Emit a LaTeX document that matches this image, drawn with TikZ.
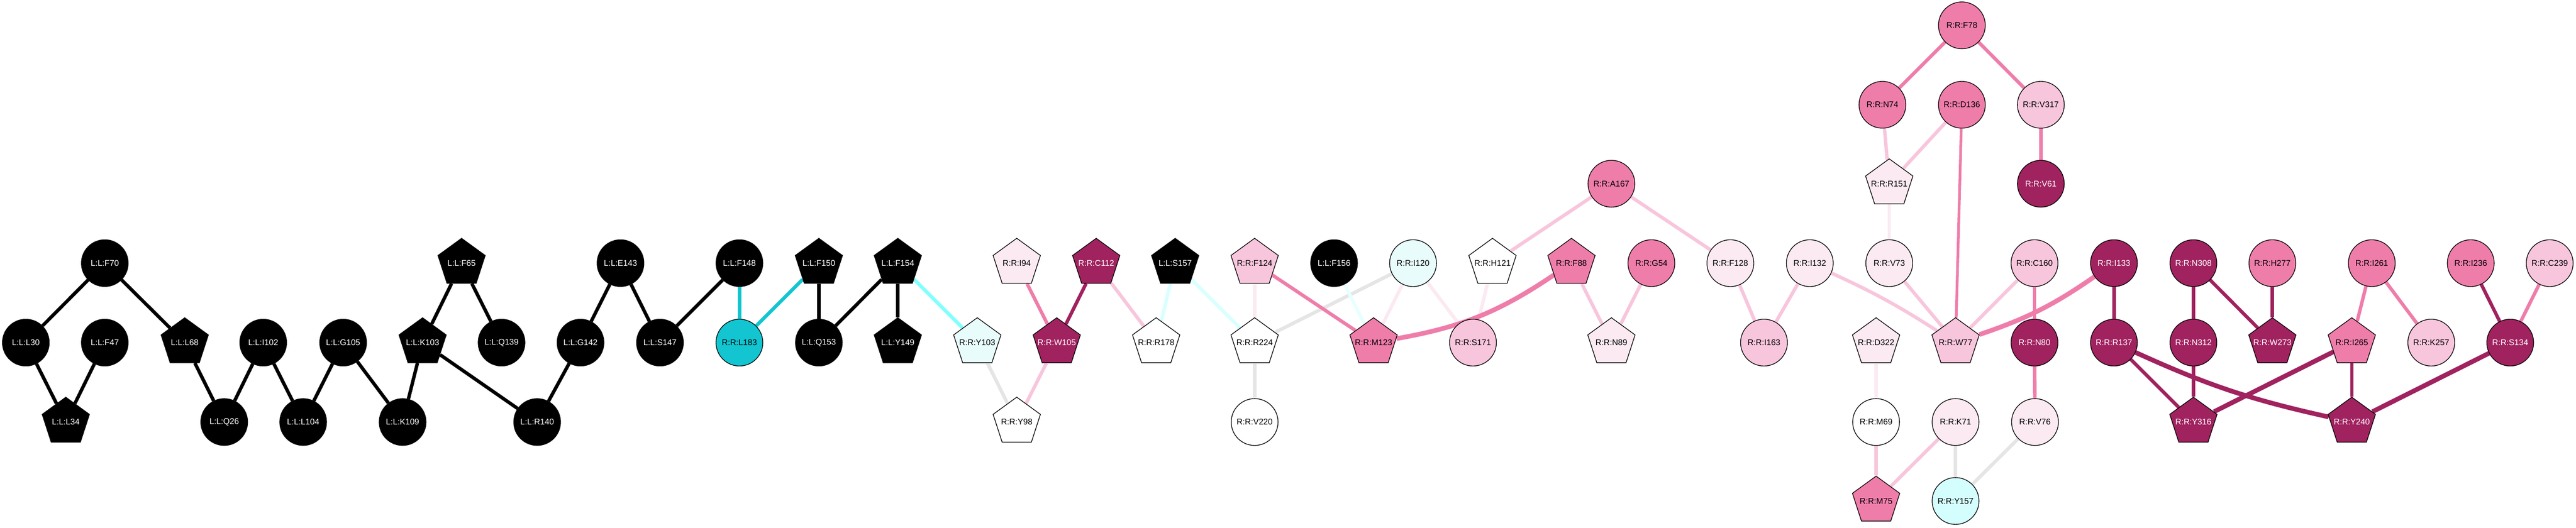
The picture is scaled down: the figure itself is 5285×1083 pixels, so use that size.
\documentclass[tikz,border=0pt]{standalone}
\usepackage{fontspec}
\newfontfamily\labfont{Liberation Sans}
\usetikzlibrary{shapes.geometric}
\pgfdeclarelayer{bg}
\pgfsetlayers{bg,main}
\newcommand\nodetxt[1]{\makebox[0pt][c]{#1}}
\definecolor{cdark}{RGB}{160,34,95}
\definecolor{cmed}{RGB}{239,125,170}
\definecolor{clight}{RGB}{248,198,220}
\definecolor{cvlight}{RGB}{251,234,242}
\definecolor{ccyl}{RGB}{232,252,252}
\definecolor{ccyy}{RGB}{212,253,253}
\definecolor{cteal}{RGB}{18,197,208}
\definecolor{ecyan}{RGB}{128,255,255}
\definecolor{egray}{RGB}{229,229,229}
\definecolor{ecyl}{RGB}{217,255,255}
\definecolor{ecyv}{RGB}{232,255,255}
\tikzset{
  base/.style={draw=black, line width=0.4pt, inner sep=0pt, font=\labfont\fontsize{4.84pt}{5.8pt}\selectfont},
  circ/.style={base, circle, minimum size=0.96cm},
  pent/.style={base, regular polygon, regular polygon sides=5, minimum size=1.02cm},
  kb/.style={fill=black, text=white},
  kd/.style={fill=cdark, text=white},
  km/.style={fill=cmed},
  kl/.style={fill=clight},
  kv/.style={fill=cvlight},
  kw/.style={fill=white},
  kc/.style={fill=ccyl},
  ky/.style={fill=ccyy},
  kt/.style={fill=cteal},
  ed/.style={line width=2pt},
  edk/.style={ed, black},
  edt/.style={ed, cteal},
  edc/.style={ed, ecyan},
  edg/.style={ed, egray},
  edcl/.style={ed, ecyl},
  edcv/.style={ed, ecyv},
  edd/.style={ed, cdark},
  edm/.style={ed, cmed},
  edl/.style={ed, clight},
  edv/.style={ed, cvlight},
  thick2/.style={line width=2.7pt}
}
\begin{document}
\begin{tikzpicture}[x=0.01cm,y=-0.01cm]
\useasboundingbox (0,0) rectangle (5285,1083);
% row A
\node[circ,km] (F78) at (4025,52) {\nodetxt{R:R:F78}};
% row B
\node[circ,km] (N74) at (3862,215) {\nodetxt{R:R:N74}};
\node[circ,km] (D136) at (4025,215) {\nodetxt{R:R:D136}};
\node[circ,kl] (V317) at (4187,215) {\nodetxt{R:R:V317}};
% row C
\node[circ,km] (A167) at (3306,377) {\nodetxt{R:R:A167}};
\node[pent,kv] (R151) at (3876,377) {\nodetxt{R:R:R151}};
\node[circ,kd] (V61) at (4187,377) {\nodetxt{R:R:V61}};
% row D
\node[circ,kb] (F70) at (215,540) {\nodetxt{L:L:F70}};
\node[pent,kb] (F65) at (947,540) {\nodetxt{L:L:F65}};
\node[circ,kb] (E143) at (1273,540) {\nodetxt{L:L:E143}};
\node[circ,kb] (F148) at (1517,540) {\nodetxt{L:L:F148}};
\node[pent,kb] (F150) at (1680,540) {\nodetxt{L:L:F150}};
\node[pent,kb] (F154) at (1842,540) {\nodetxt{L:L:F154}};
\node[pent,kv] (I94) at (2086,540) {\nodetxt{R:R:I94}};
\node[pent,kd] (C112) at (2249,540) {\nodetxt{R:R:C112}};
\node[pent,kb] (S157) at (2411,540) {\nodetxt{L:L:S157}};
\node[pent,kl] (F124) at (2574,540) {\nodetxt{R:R:F124}};
\node[circ,kb] (F156) at (2737,540) {\nodetxt{L:L:F156}};
\node[circ,kc] (I120) at (2899,540) {\nodetxt{R:R:I120}};
\node[pent,kw] (H121) at (3062,540) {\nodetxt{R:R:H121}};
\node[pent,km] (F88) at (3224,540) {\nodetxt{R:R:F88}};
\node[circ,km] (G54) at (3388,540) {\nodetxt{R:R:G54}};
\node[circ,kv] (F128) at (3550,540) {\nodetxt{R:R:F128}};
\node[circ,kv] (I132) at (3713,540) {\nodetxt{R:R:I132}};
\node[circ,kv] (V73) at (3876,540) {\nodetxt{R:R:V73}};
\node[circ,kl] (C160) at (4174,540) {\nodetxt{R:R:C160}};
\node[circ,kd] (I133) at (4337,540) {\nodetxt{R:R:I133}};
\node[circ,kd] (N308) at (4500,540) {\nodetxt{R:R:N308}};
\node[circ,km] (H277) at (4662,540) {\nodetxt{R:R:H277}};
\node[circ,km] (I261) at (4866,540) {\nodetxt{R:R:I261}};
\node[circ,km] (I236) at (5069,540) {\nodetxt{R:R:I236}};
\node[circ,kl] (C239) at (5231,540) {\nodetxt{R:R:C239}};
% row E
\node[circ,kb] (L30) at (53,703) {\nodetxt{L:L:L30}};
\node[circ,kb] (F47) at (215,703) {\nodetxt{L:L:F47}};
\node[pent,kb] (L68) at (379,703) {\nodetxt{L:L:L68}};
\node[circ,kb] (I102) at (540,703) {\nodetxt{L:L:I102}};
\node[circ,kb] (G105) at (704,703) {\nodetxt{L:L:G105}};
\node[pent,kb] (K103) at (867,703) {\nodetxt{L:L:K103}};
\node[circ,kb] (Q139) at (1029,703) {\nodetxt{L:L:Q139}};
\node[circ,kb] (G142) at (1191,703) {\nodetxt{L:L:G142}};
\node[circ,kb] (S147) at (1354,703) {\nodetxt{L:L:S147}};
\node[circ,kt] (L183) at (1517,703) {\nodetxt{R:R:L183}};
\node[circ,kb] (Q153) at (1680,703) {\nodetxt{L:L:Q153}};
\node[pent,kb] (Y149) at (1842,703) {\nodetxt{L:L:Y149}};
\node[pent,kc] (Y103) at (2005,703) {\nodetxt{R:R:Y103}};
\node[pent,kd] (W105) at (2168,703) {\nodetxt{R:R:W105}};
\node[pent,kw] (R178) at (2372,703) {\nodetxt{R:R:R178}};
\node[pent,kw] (R224) at (2574,703) {\nodetxt{R:R:R224}};
\node[pent,km] (M123) at (2818,703) {\nodetxt{R:R:M123}};
\node[circ,kl] (S171) at (3022,703) {\nodetxt{R:R:S171}};
\node[pent,kv] (N89) at (3306,703) {\nodetxt{R:R:N89}};
\node[circ,kl] (I163) at (3619,703) {\nodetxt{R:R:I163}};
\node[pent,kv] (D322) at (3849,703) {\nodetxt{R:R:D322}};
\node[pent,kl] (W77) at (4012,703) {\nodetxt{R:R:W77}};
\node[circ,kd] (N80) at (4174,703) {\nodetxt{R:R:N80}};
\node[circ,kd] (R137) at (4337,703) {\nodetxt{R:R:R137}};
\node[circ,kd] (N312) at (4500,703) {\nodetxt{R:R:N312}};
\node[pent,kd] (W273) at (4662,703) {\nodetxt{R:R:W273}};
\node[pent,km] (I265) at (4825,703) {\nodetxt{R:R:I265}};
\node[circ,kl] (K257) at (4988,703) {\nodetxt{R:R:K257}};
\node[circ,kd] (S134) at (5150,703) {\nodetxt{R:R:S134}};
% row F
\node[pent,kb] (L34) at (135,866) {\nodetxt{L:L:L34}};
\node[circ,kb] (Q26) at (460,866) {\nodetxt{L:L:Q26}};
\node[circ,kb] (L104) at (622,866) {\nodetxt{L:L:L104}};
\node[circ,kb] (K109) at (826,866) {\nodetxt{L:L:K109}};
\node[circ,kb] (R140) at (1102,866) {\nodetxt{L:L:R140}};
\node[pent,kw] (Y98) at (2086,866) {\nodetxt{R:R:Y98}};
\node[circ,kw] (V220) at (2574,866) {\nodetxt{R:R:V220}};
\node[circ,kw] (M69) at (3849,866) {\nodetxt{R:R:M69}};
\node[circ,kv] (K71) at (4012,866) {\nodetxt{R:R:K71}};
\node[circ,kv] (V76) at (4175,866) {\nodetxt{R:R:V76}};
\node[pent,kd] (Y316) at (4500,866) {\nodetxt{R:R:Y316}};
\node[pent,kd] (Y240) at (4825,866) {\nodetxt{R:R:Y240}};
% row G
\node[pent,km] (M75) at (3849,1028) {\nodetxt{R:R:M75}};
\node[circ,ky] (Y157) at (4012,1028) {\nodetxt{R:R:Y157}};
\begin{pgfonlayer}{bg}
% ligand edges
\draw[edk] (F70) -- (L30);
\draw[edk] (F70) -- (L68);
\draw[edk] (L30) -- (L34);
\draw[edk] (F47) -- (L34);
\draw[edk] (L68) -- (Q26);
\draw[edk] (I102) -- (Q26);
\draw[edk] (I102) -- (L104);
\draw[edk] (G105) -- (L104);
\draw[edk] (G105) -- (K109);
\draw[edk] (F65) -- (K103);
\draw[edk] (F65) -- (Q139);
\draw[edk] (K103) -- (K109);
\draw[edk] (K103) -- (R140);
\draw[edk] (E143) -- (G142);
\draw[edk] (E143) -- (S147);
\draw[edk] (G142) -- (R140);
\draw[edk] (F148) -- (S147);
\draw[edk] (F150) -- (Q153);
\draw[edk] (F154) -- (Q153);
\draw[edk] (F154) -- (Y149);
\draw[edt] (F148) -- (L183);
\draw[edt] (F150) -- (L183);
\draw[edc] (F154) -- (Y103);
% gray and cyan edges
\draw[edg] (Y103) -- (Y98);
\draw[edg] (R224) -- (V220);
\draw[edg] (I120) -- (R224);
\draw[edg] (K71) -- (Y157);
\draw[edg] (V76) -- (Y157);
\draw[edcl] (S157) -- (R178);
\draw[edcl] (S157) -- (R224);
\draw[edcv] (F156) -- (M123);
% pink edges
\draw[edm] (I94) -- (W105);
\draw[edd] (C112) -- (W105);
\draw[edl] (C112) -- (R178);
\draw[edl] (W105) -- (Y98);
\draw[edv] (F124) -- (R224);
\draw[edm] (F124) -- (M123);
\draw[edv] (I120) -- (M123);
\draw[edv] (I120) -- (S171);
\draw[edv] (H121) -- (S171);
\draw[edm,thick2] (M123) to[bend right=12] (F88);
\draw[edl] (A167) -- (H121);
\draw[edl] (A167) -- (F128);
\draw[edl] (F88) -- (N89);
\draw[edl] (G54) -- (N89);
\draw[edl] (F128) -- (I163);
\draw[edl] (I132) -- (I163);
\draw[edl] (I132) to[bend left=4] (W77);
\draw[edl] (V73) -- (W77);
\draw[edv] (R151) -- (V73);
\draw[edl] (N74) -- (R151);
\draw[edl] (D136) -- (R151);
\draw[edm,line width=1.6pt] (D136) -- (W77);
\draw[edm] (F78) -- (N74);
\draw[edm] (F78) -- (V317);
\draw[edm] (V317) -- (V61);
\draw[edl] (C160) -- (W77);
\draw[edm,thick2] (W77) to[bend right=8] (I133);
\draw[edm] (C160) -- (N80);
\draw[edm] (N80) -- (V76);
\draw[edv] (D322) -- (M69);
\draw[edl] (M69) -- (M75);
\draw[edl] (K71) -- (M75);
\draw[edd] (I133) -- (R137);
\draw[edd] (N308) -- (N312);
\draw[edd] (N308) -- (W273);
\draw[edd] (H277) -- (W273);
\draw[edm] (I261) -- (I265);
\draw[edm] (I261) -- (K257);
\draw[edd] (I236) -- (S134);
\draw[edm] (C239) -- (S134);
\draw[edd] (R137) -- (Y316);
\draw[edd,thick2] (R137) to[bend right=6] (Y240);
\draw[edd] (N312) -- (Y316);
\draw[edd,thick2] (I265) -- (Y316);
\draw[edd] (I265) -- (Y240);
\draw[edd,thick2] (S134) -- (Y240);
\end{pgfonlayer}
\end{tikzpicture}
\end{document}
